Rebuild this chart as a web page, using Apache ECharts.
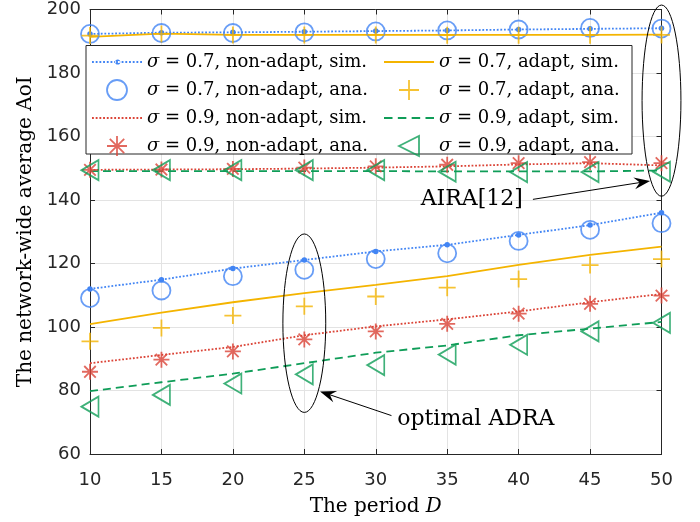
<!DOCTYPE html>
<html>
<head>
<meta charset="utf-8">
<script src="https://cdn.jsdelivr.net/npm/echarts@6/dist/echarts.min.js"></script>
<style>
html, body { margin: 0; padding: 0; background: #fff; }
#chart { width: 700px; height: 522px; }
</style>
</head>
<body>
<div id="chart"></div>
<script>
// period D on the x axis
const periods = [10, 15, 20, 25, 30, 35, 40, 45, 50]
const xTicks = [10, 50, 5]
const yTicks = [60, 200, 20]

// AIRA[12] group (upper curves)
const airaS07NaSim = [192.3, 192.7, 192.8, 193.0, 193.2, 193.4, 193.7, 193.9, 194.1]
const airaS07NaAna = [192.3, 192.6, 192.6, 192.8, 193.1, 193.4, 193.7, 194.2, 194.0]
const airaS07AdSim = [191.4, 192.4, 192.0, 192.0, 192.0, 192.0, 192.0, 192.0, 192.1]
const airaS07AdAna = [191.8, 192.3, 192.0, 192.0, 192.0, 191.9, 191.9, 191.9, 192.0]
const airaS09NaSim = [149.5, 149.6, 149.7, 149.9, 150.2, 150.6, 151.2, 151.6, 150.9]
const airaS09NaAna = [149.5, 149.6, 149.8, 150.2, 150.6, 151.1, 151.6, 151.9, 151.6]
const airaS09AdSim = [149.1, 149.1, 149.1, 149.1, 149.1, 149.0, 149.0, 149.0, 149.3]
const airaS09AdAna = [149.4, 149.4, 149.4, 149.4, 149.4, 148.9, 148.8, 148.8, 148.9]

// optimal ADRA group (lower curves)
const adraS07NaSim = [112.0, 114.9, 118.4, 121.1, 123.8, 125.9, 129.0, 132.1, 136.0]
const adraS07NaAna = [109.1, 111.5, 116.0, 118.0, 121.4, 123.2, 127.1, 130.6, 132.7]
const adraS07AdSim = [100.9, 104.5, 107.8, 110.7, 113.3, 116.0, 119.6, 122.7, 125.3]
const adraS07AdAna = [95.5, 99.7, 103.6, 106.5, 109.6, 112.4, 115.1, 119.5, 121.4]
const adraS09NaSim = [88.6, 91.2, 93.7, 97.4, 100.2, 102.4, 104.9, 107.8, 110.4]
const adraS09NaAna = [85.9, 89.7, 92.3, 96.1, 98.6, 101.0, 104.2, 107.3, 109.9]
const adraS09AdSim = [79.8, 82.6, 85.3, 88.6, 91.9, 94.2, 97.4, 99.5, 101.6]
const adraS09AdAna = [74.9, 78.6, 82.2, 85.1, 88.0, 91.3, 94.4, 98.6, 101.3]

const names = [
  "σ = 0.7, non-adapt, sim.",
  "σ = 0.7, non-adapt, ana.",
  "σ = 0.9, non-adapt, sim.",
  "σ = 0.9, non-adapt, ana.",
  "σ = 0.7, adapt, sim.",
  "σ = 0.7, adapt, ana.",
  "σ = 0.9, adapt, sim.",
  "σ = 0.9, adapt, ana."
]

const BLUE = "#4285F4"
const YELLOW = "#F4B400"
const RED = "#DB4437"
const GREEN = "#0F9D58"
const INK = "#262626"
const SERIF = "DejaVu Serif"
const SANS = "DejaVu Sans"

const PLUS = "path://M0,-1L0,1M-1,0L1,0"
const ASTER = "path://M0,-1L0,1M-1,0L1,0M-0.72,-0.72L0.72,0.72M-0.72,0.72L0.72,-0.72"
const TRI_LEFT = "path://M-1,0L1,-1L1,1Z"

// legend line icons drawn as small filled pieces in a 50x20 box
const dashPath = (on, off, h) => {
  let p = ""
  const y = 10 - h / 2
  for (let x = 0; x < 50; x += on + off) {
    const w = Math.min(on, 50 - x)
    p += "M" + x + "," + y + "h" + w + "v" + h + "h" + -w + "Z"
  }
  return p
}
const DOT = "M22.5,10a2.5,2.5 0 1,0 5,0a2.5,2.5 0 1,0 -5,0Z"

const pts = (arr) => periods.map((d, i) => [d, arr[i]])

const simLine = (name, arr, color, type, width, dots) => ({
  name: name,
  type: "line",
  data: pts(arr),
  symbol: dots ? "circle" : "none",
  symbolSize: 5.5,
  itemStyle: { color: color },
  lineStyle: { color: color, width: width, type: type },
  z: 2
})
const anaMarks = (name, arr, color, symbol, size) => ({
  name: name,
  type: "scatter",
  data: pts(arr),
  symbol: symbol,
  symbolSize: size,
  itemStyle: { color: "none", borderColor: color, borderWidth: 1.8 },
  z: 3
})

const series = []
;[
  [airaS07NaSim, airaS07NaAna, airaS07AdSim, airaS07AdAna, airaS09NaSim, airaS09NaAna, airaS09AdSim, airaS09AdAna],
  [adraS07NaSim, adraS07NaAna, adraS07AdSim, adraS07AdAna, adraS09NaSim, adraS09NaAna, adraS09AdSim, adraS09AdAna]
].forEach((g) => {
  series.push(simLine(names[0], g[0], BLUE, [1.8, 1.8], 1.8, true))
  series.push(simLine(names[4], g[2], YELLOW, "solid", 1.8, false))
  series.push(simLine(names[2], g[4], RED, [1.8, 1.8], 1.8, false))
  series.push(simLine(names[6], g[6], GREEN, [8, 5], 1.8, false))
  series.push(anaMarks(names[1], g[1], BLUE, "circle", 18))
  series.push(anaMarks(names[5], g[3], YELLOW, PLUS, 17))
  series.push(anaMarks(names[3], g[5], RED, ASTER, 16))
  series.push(anaMarks(names[7], g[7], GREEN, TRI_LEFT, [17, 20]))
})

const lineIcon = (name, path, color) => ({
  name: name,
  icon: "path://" + path,
  itemStyle: { color: color, borderWidth: 0 }
})
const markIcon = (name, icon, color) => ({
  name: name,
  icon: icon,
  itemStyle: { color: "none", borderColor: color, borderWidth: 1.8 }
})

const legendBase = {
  orient: "vertical",
  top: 52,
  padding: 0,
  itemWidth: 50,
  itemHeight: 20,
  itemGap: 5.5,
  selectedMode: false,
  textStyle: { fontFamily: SERIF, fontSize: 18, color: "#000", lineHeight: 20 },
  formatter: (n) => "{i|σ}" + n.slice(1),
  z: 5
}
legendBase.textStyle.rich = {
  i: { fontFamily: SERIF, fontSize: 18, fontStyle: "italic", color: "#000" }
}

const chart = echarts.init(document.getElementById("chart"))

const axisCommon = {
  type: "value",
  axisLine: { show: true, onZero: false, lineStyle: { color: INK, width: 1 } },
  axisTick: { show: true, inside: true, length: 5, lineStyle: { color: INK } }
}

chart.setOption({
  animation: false,
  backgroundColor: "#fff",
  grid: { left: 90, right: 38.5, top: 9.5, bottom: 66, containLabel: false },
  xAxis: [
    Object.assign({}, axisCommon, {
      position: "bottom",
      min: xTicks[0], max: xTicks[1], interval: xTicks[2],
      name: "The period {i|D}",
      nameLocation: "middle",
      nameGap: 43,
      nameTextStyle: {
        fontFamily: SERIF, fontSize: 20, color: "#000",
        rich: { i: { fontFamily: SERIF, fontSize: 20, fontStyle: "italic", color: "#000" } }
      },
      axisLabel: { fontFamily: SANS, fontSize: 18, color: INK, margin: 17 },
      splitLine: { show: true, lineStyle: { color: "#e3e3e3", width: 1 } }
    }),
    Object.assign({}, axisCommon, {
      position: "top",
      min: xTicks[0], max: xTicks[1], interval: xTicks[2],
      axisLabel: { show: false },
      splitLine: { show: false }
    })
  ],
  yAxis: [
    Object.assign({}, axisCommon, {
      position: "left",
      min: yTicks[0], max: yTicks[1], interval: yTicks[2],
      name: "The network-wide average AoI",
      nameLocation: "middle",
      nameGap: 52,
      nameTextStyle: { fontFamily: SERIF, fontSize: 20, color: "#000" },
      axisLabel: { fontFamily: SANS, fontSize: 18, color: INK, margin: 9 },
      splitLine: { show: true, lineStyle: { color: "#e3e3e3", width: 1 } }
    }),
    Object.assign({}, axisCommon, {
      position: "right",
      min: yTicks[0], max: yTicks[1], interval: yTicks[2],
      axisLabel: { show: false },
      splitLine: { show: false }
    })
  ],
  legend: [
    Object.assign({}, legendBase, {
      left: 92,
      data: [
        lineIcon(names[0], dashPath(1.8, 1.8, 1.8) + DOT, BLUE),
        markIcon(names[1], "circle", BLUE),
        lineIcon(names[2], dashPath(1.8, 1.8, 1.8), RED),
        markIcon(names[3], ASTER, RED)
      ]
    }),
    Object.assign({}, legendBase, {
      left: 384,
      data: [
        lineIcon(names[4], dashPath(50, 0, 1.8), YELLOW),
        markIcon(names[5], PLUS, YELLOW),
        lineIcon(names[6], dashPath(8, 5, 1.8), GREEN),
        markIcon(names[7], TRI_LEFT, GREEN)
      ]
    })
  ],
  series: series
})

// annotations, placed in data coordinates
const toPx = (d, v) => chart.convertToPixel({ xAxisIndex: 0, yAxisIndex: 0 }, [d, v])

const ellipse = (cd, cv, rd, rv) => {
  const c = toPx(cd, cv)
  const e = toPx(cd + rd, cv + rv)
  return {
    type: "ellipse",
    shape: { cx: c[0], cy: c[1], rx: Math.abs(e[0] - c[0]), ry: Math.abs(e[1] - c[1]) },
    style: { fill: "none", stroke: "#000", lineWidth: 1 },
    z: 10
  }
}
const arrow = (fromD, fromV, toD, toV) => {
  const a = toPx(fromD, fromV)
  const b = toPx(toD, toV)
  const len = Math.hypot(b[0] - a[0], b[1] - a[1])
  const ux = (b[0] - a[0]) / len
  const uy = (b[1] - a[1]) / len
  const L = 16
  const W = 6
  const bx = b[0] - ux * L
  const by = b[1] - uy * L
  return [
    {
      type: "line",
      shape: { x1: a[0], y1: a[1], x2: b[0] - ux * L * 0.6, y2: b[1] - uy * L * 0.6 },
      style: { stroke: "#000", lineWidth: 1 },
      z: 10
    },
    {
      type: "polygon",
      shape: {
        points: [
          [b[0], b[1]],
          [bx - uy * W, by + ux * W],
          [b[0] - ux * L * 0.65, b[1] - uy * L * 0.65],
          [bx + uy * W, by - ux * W]
        ]
      },
      style: { fill: "#000" },
      z: 10
    }
  ]
}
const label = (d, v, text, align) => {
  const p = toPx(d, v)
  return {
    type: "text",
    x: p[0],
    y: p[1],
    style: {
      text: text,
      fontFamily: SERIF,
      fontSize: 22,
      fill: "#000",
      align: align,
      verticalAlign: "middle"
    },
    z: 10
  }
}

chart.setOption({
  graphic: [
    {
      type: "rect",
      shape: { x: 86, y: 45.5, width: 546, height: 108.5 },
      style: { fill: "#fff", stroke: INK, lineWidth: 1 },
      z: 4
    },
    ellipse(25, 101.2, 1.5, 28.1),
    ellipse(50, 171.3, 1.36, 30.1),
    ...arrow(41.0, 140.2, 49.2, 146.0),
    ...arrow(31.1, 72.1, 26.1, 79.7),
    label(40.3, 140.3, "AIRA[12]", "right"),
    label(31.5, 70.8, "optimal ADRA", "left")
  ]
})
</script>
</body>
</html>
